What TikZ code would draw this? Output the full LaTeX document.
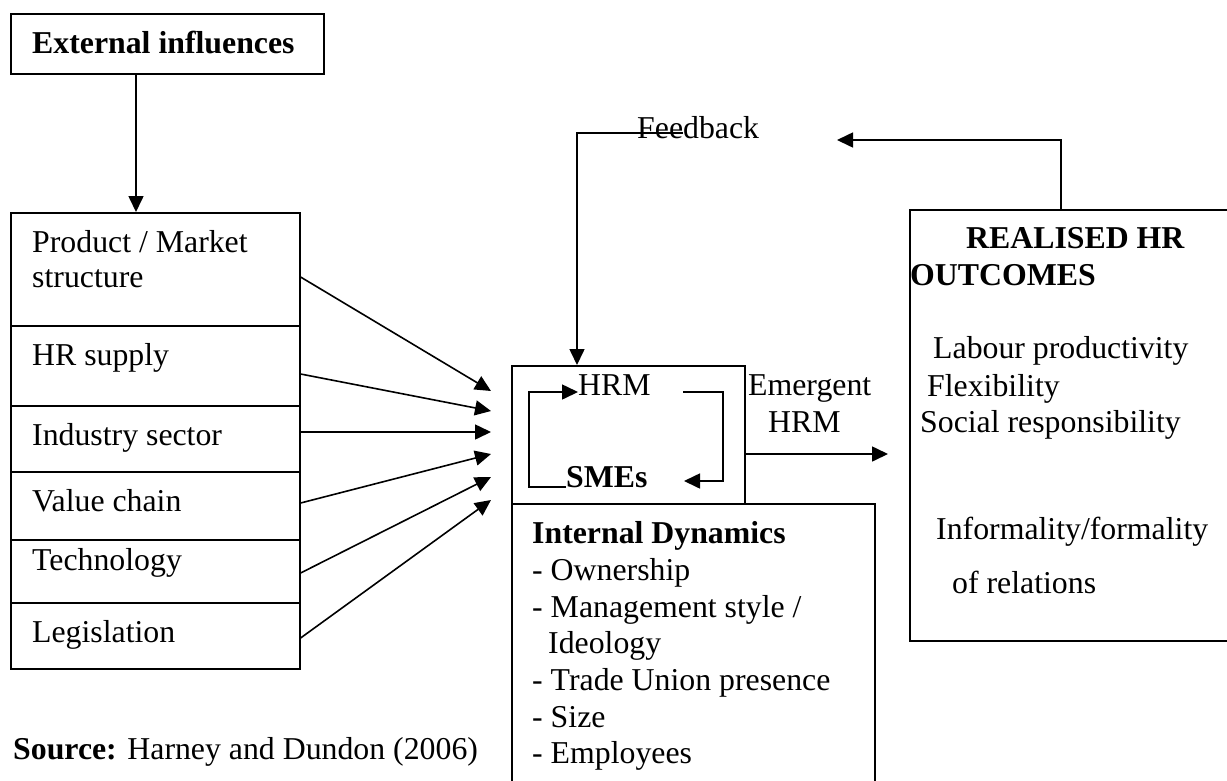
\documentclass[tikz,border=0pt]{standalone}
\usepackage{fontspec}
\setmainfont{Liberation Serif}
\usetikzlibrary{arrows.meta}
\newcommand\bodyfont{\fontsize{31.8}{36.6}\selectfont}
\tikzset{
  box/.style={draw, line width=1.6pt, inner sep=0pt, anchor=north west},
  lbl/.style={anchor=base west, inner sep=0pt, font=\bodyfont},
  blbl/.style={lbl, font=\bodyfont\bfseries},
  conn/.style={line width=1.6pt},
  arr/.style={conn, -{Triangle[length=16pt,width=15pt]}},
}
\begin{document}
\begin{tikzpicture}[x=1pt,y=-1pt]
\useasboundingbox (0,0) rectangle (1227,780);
\clip (0,0) rectangle (1227,780);

% external influences
\node[box, minimum width=313pt, minimum height=60pt] (ext) at (10,13) {};
\node[blbl] (extT) at (32,53) {External influences};

% stack of external factors
\node[box, minimum width=289pt, minimum height=113pt] (f1) at (10,212) {};
\node[box, minimum width=289pt, minimum height=80pt] (f2) at (10,325) {};
\node[box, minimum width=289pt, minimum height=66pt] (f3) at (10,405) {};
\node[box, minimum width=289pt, minimum height=68pt] (f4) at (10,471) {};
\node[box, minimum width=289pt, minimum height=63pt] (f5) at (10,539) {};
\node[box, minimum width=289pt, minimum height=66pt] (f6) at (10,602) {};
\node[lbl] (f1a) at (32,252) {Product / Market};
\node[lbl] (f1b) at (32,287) {structure};
\node[lbl] (f2T) at (32,365) {HR supply};
\node[lbl] (f3T) at (32,445) {Industry sector};
\node[lbl] (f4T) at (32,511) {Value chain};
\node[lbl] (f5T) at (32,570) {Technology};
\node[lbl] (f6T) at (32,642) {Legislation};

\draw[arr] (ext.south -| 136,0) -- (f1.north -| 136,0);

% arrows into the HRM block
\coordinate (t1) at (491,391);
\coordinate (t2) at (491,411);
\coordinate (t3) at (491,432);
\coordinate (t4) at (491,454);
\coordinate (t5) at (491,477);
\coordinate (t6) at (491,500);
\draw[arr] (f1.east |- 0,277) -- (t1);
\draw[arr] (f2.east |- 0,374) -- (t2);
\draw[arr] (f3.east |- 0,432) -- (t3);
\draw[arr] (f4.east |- 0,503) -- (t4);
\draw[arr] (f5.east |- 0,573) -- (t5);
\draw[arr] (f6.east |- 0,638) -- (t6);

% HRM / SMEs block
\node[box, minimum width=233pt, minimum height=138pt] (hrm) at (511,365) {};
\node[lbl] (hrmT) at (578,395) {HRM};
\node[blbl] (smeT) at (566,487) {SMEs};
\coordinate (lA) at (529,487);
\coordinate (lB) at (529,392);
\coordinate (rA) at (683,392);
\coordinate (rB) at (723,392);
\coordinate (rC) at (723,481);
\draw[arr] (smeT.base west) -- (lA) -- (lB) -- (hrmT.west |- lB);
\draw[arr] (rA) -- (rB) -- (rC) -- (684,481);

% internal dynamics
\node[box, minimum width=363pt, minimum height=300pt] (intd) at (511,503) {};
\node[blbl] (i0) at (532,543) {Internal Dynamics};
\node[lbl] (i1) at (532,580) {- Ownership};
\node[lbl] (i2) at (532,617) {- Management style /};
\node[lbl] (i3) at (548,653) {Ideology};
\node[lbl] (i4) at (532,690) {- Trade Union presence};
\node[lbl] (i5) at (532,727) {- Size};
\node[lbl] (i6) at (532,763) {- Employees};

% emergent HRM
\node[lbl] (em1) at (748,395) {Emergent};
\node[lbl] (em2) at (768,432) {HRM};
\coordinate (emTip) at (888,454);
\draw[arr] (hrm.east |- emTip) -- (emTip);

% realised outcomes
\node[box, minimum width=340pt, minimum height=431pt] (real) at (909,209) {};
\node[blbl] (r1) at (966,248) {REALISED HR};
\node[blbl] (r2) at (910,285) {OUTCOMES};
\node[lbl] (r3) at (933,358) {Labour productivity};
\node[lbl] (r4) at (927,396) {Flexibility};
\node[lbl] (r5) at (920,432) {Social responsibility};
\node[lbl] (r6) at (936,539) {Informality/formality};
\node[lbl] (r7) at (952,593) {of relations};

% feedback loop
\coordinate (fbA) at (1061,140);
\coordinate (fbTip) at (837,140);
\draw[arr] (real.north -| fbA) -- (fbA) -- (fbTip);
\coordinate (fbB) at (683,133);
\coordinate (fbC) at (577,133);
\draw[arr] (fbB) -- (fbC) -- (hrm.north -| fbC);
\node[lbl] (fbT) at (637,138) {Feedback};

% source
\node[lbl] (src) at (13,759) {\textbf{Source:} Harney and Dundon (2006)};
\end{tikzpicture}
\end{document}
